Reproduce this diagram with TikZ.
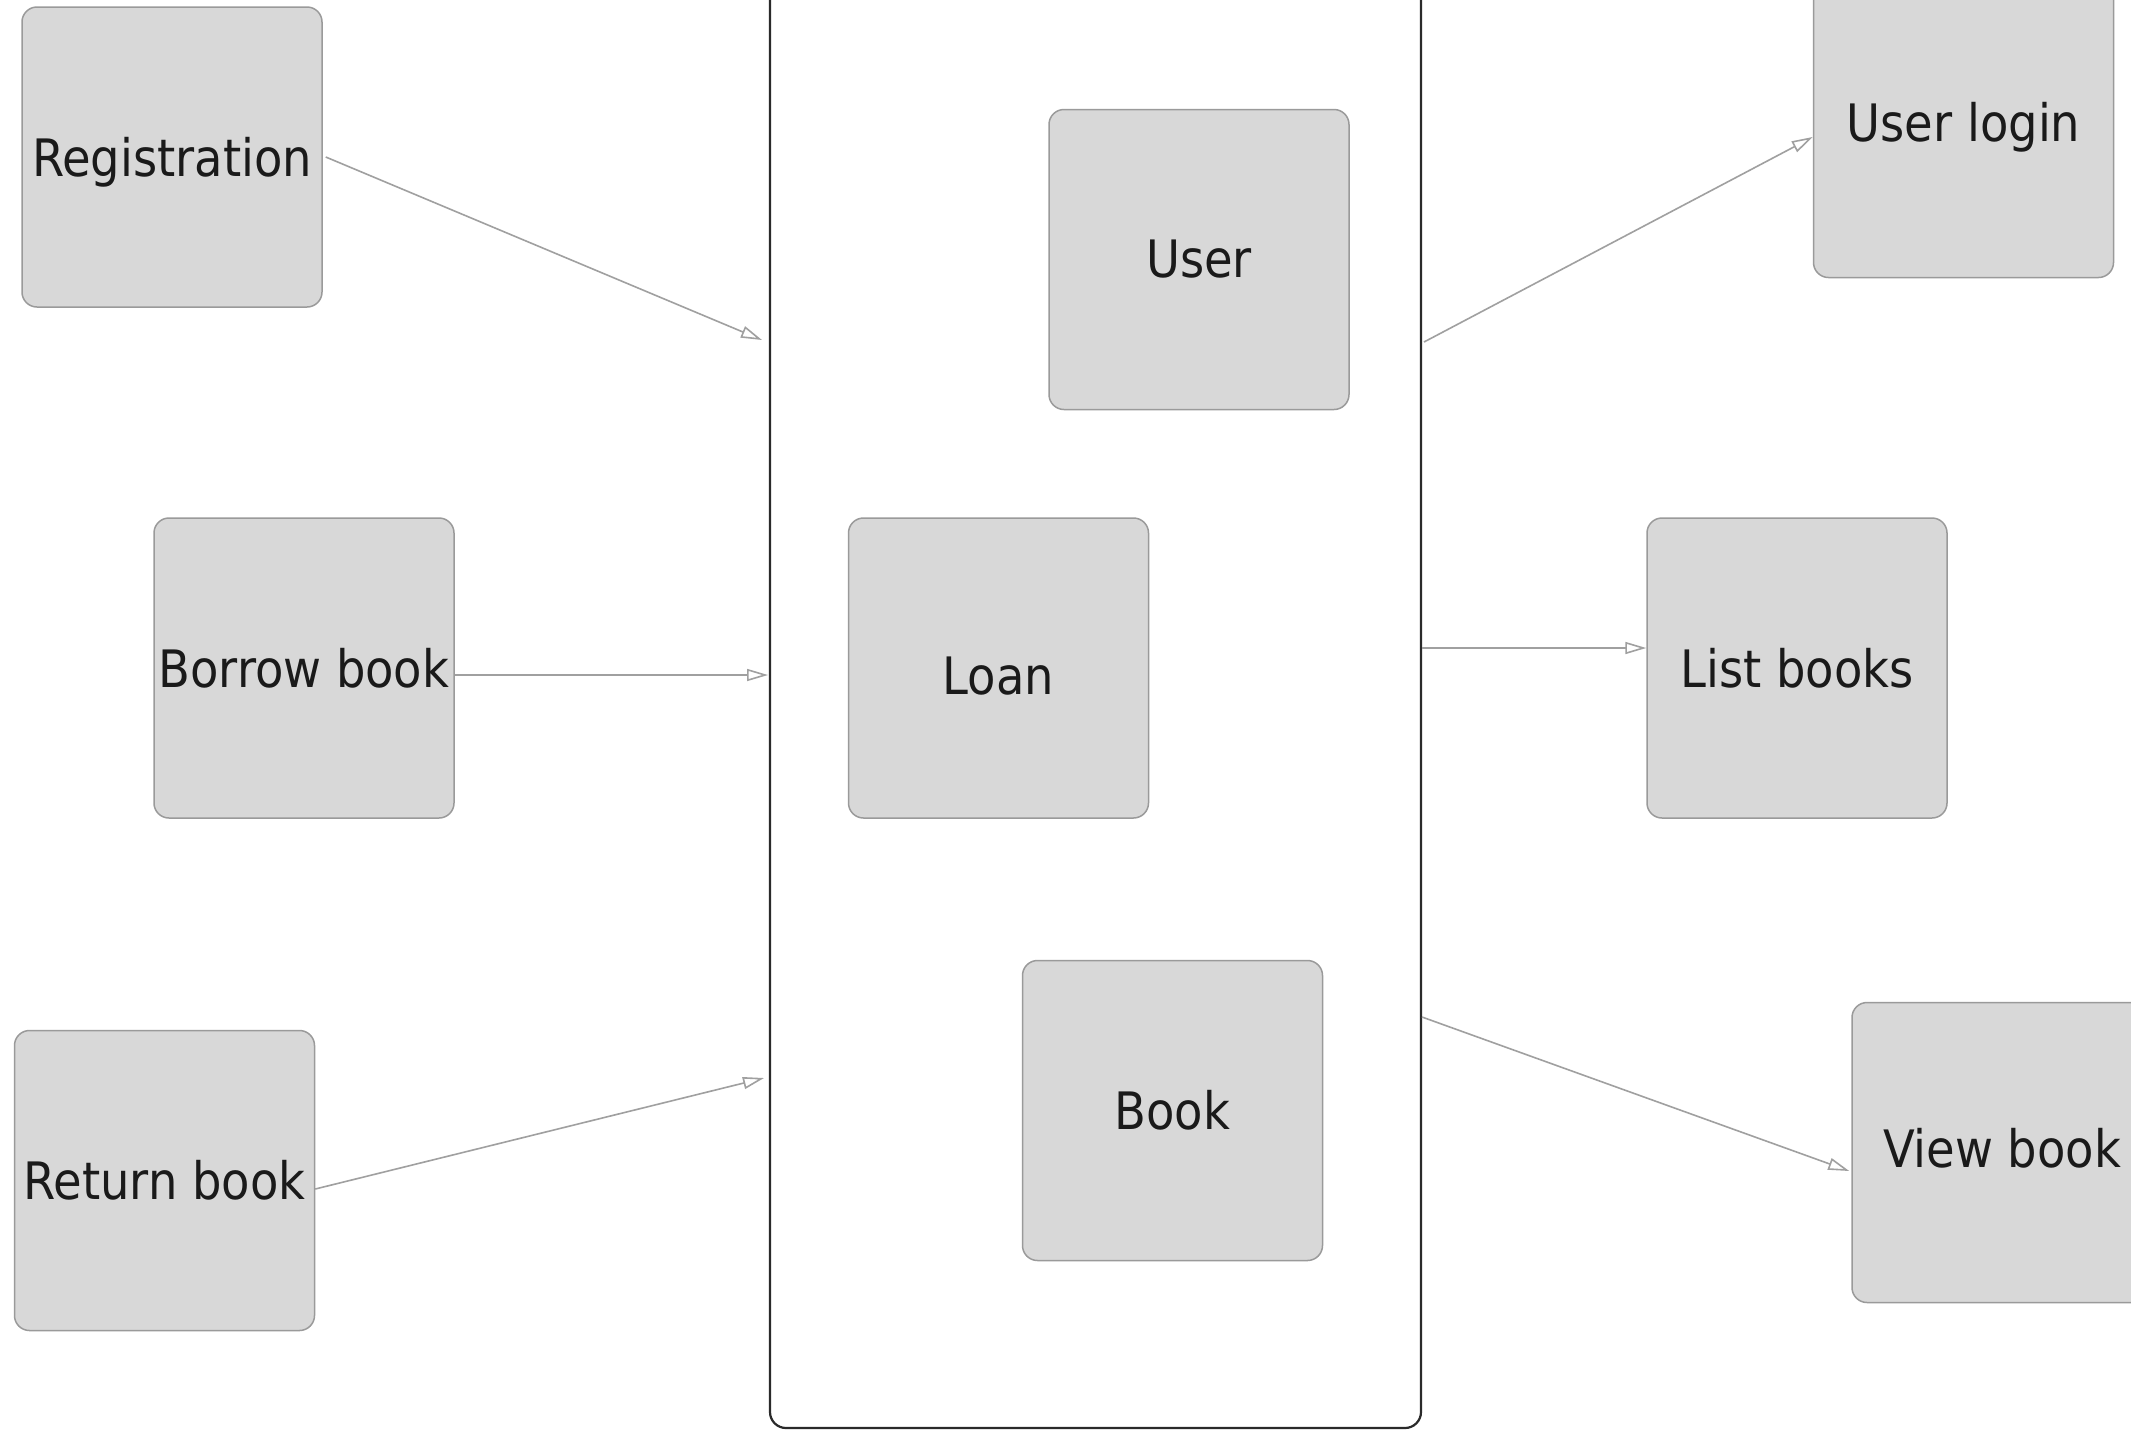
\documentclass[tikz,border=0pt]{standalone}
\usepackage{fontspec}
\setmainfont{DejaVu Sans Condensed}
\usetikzlibrary{arrows.meta,calc}
\definecolor{boxfill}{HTML}{D8D8D8}
\definecolor{boxline}{HTML}{9A9A9A}
\definecolor{arrline}{HTML}{A0A0A0}
\definecolor{panelline}{HTML}{2A2A2A}
\definecolor{txt}{HTML}{1A1A1A}
\tikzset{
  card/.style={draw=boxline, fill=boxfill, line width=0.75pt, rounded corners=7.5pt,
    minimum width=150pt, minimum height=150pt, inner sep=0pt, text=txt,
    font=\fontsize{25.8}{30}\selectfont},
  panel/.style={draw=panelline, line width=1.1pt, rounded corners=8pt,
    minimum width=325.5pt, minimum height=764pt, inner sep=0pt},
  arr/.style={draw=arrline, line width=0.8pt,
    -{Triangle[open, length=10.5pt, width=6pt]}}
}
\begin{document}
\begin{tikzpicture}[x=0.5pt,y=-0.5pt]
\clip (0,0) rectangle (2131,1431);
\fill[white] (0,0) rectangle (2131,1431);
\node[panel] (pan) at (1095.5,664) {};
\node[card, text height=19.7pt, text depth=0pt] (reg) at (172,157) {Registration};
\node[card] (user) at (1199,259.5) {User};
\node[card] (ul) at (1963.5,127.5) {User login};
\node[card] (borrow) at (304,668) {Borrow book};
\node[card, text height=26pt, text depth=0pt] (loan) at (998.5,668) {Loan};
\node[card] (list) at (1797,668) {List books};
\node[card] (ret) at (164.5,1180.5) {Return book};
\node[card] (book) at (1172.5,1110.5) {Book};
\node[card, text height=15pt, text depth=0pt] (view) at (2002,1152.5) {View book};
\coordinate (pin1) at (762,340);
\coordinate (pin2) at (768,675);
\coordinate (pin3) at (764,1078);
\coordinate (pout1) at (1424,342);
\coordinate (pout2) at (1422,648);
\coordinate (pout3) at (1422,1017);
\draw[arr] ($(reg.east)+(3,0)$) -- (pin1);
\draw[arr] (borrow.east |- pin2) -- (pin2);
\draw[arr] ($(ret.east)+(0,8.5)$) -- (pin3);
\draw[arr] (pout1) -- ($(ul.west)+(0,9.5)$);
\draw[arr] (pout2) -- (list.west |- pout2);
\draw[arr] (pout3) -- ($(view.west)+(-2,18.5)$);
\end{tikzpicture}
\end{document}
